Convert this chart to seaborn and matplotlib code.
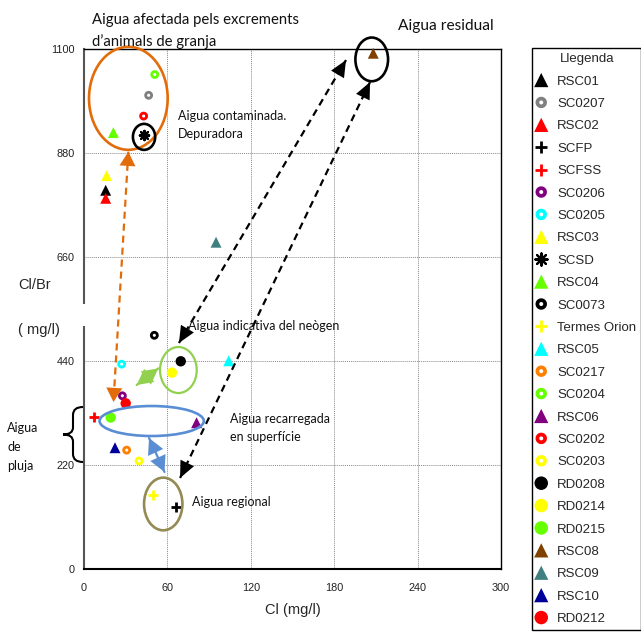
import numpy as np
import seaborn as sns
import matplotlib
matplotlib.use("Agg")
import matplotlib.pyplot as plt
from matplotlib.path import Path
from matplotlib.patches import Ellipse, PathPatch, Rectangle, FancyArrowPatch

# sample data: Cl (mg/l) vs Cl/Br
samples = ["RSC01", "SC0207", "RSC02", "SCFP", "SCFSS", "SC0206", "SC0205", "RSC03",
           "SCSD", "RSC04", "SC0073", "Termes Orion", "RSC05", "SC0217", "SC0204",
           "RSC06", "SC0202", "SC0203", "RD0208", "RD0214", "RD0215", "RSC08",
           "RSC09", "RSC10", "RD0212"]
cl = [15.6, 46.5, 15.6, 66.2, 7.2, 27.6, 27.1, 16.3,
      43.2, 21.1, 50.6, 49.4, 104.1, 30.7, 50.9,
      81.0, 42.9, 39.6, 69.6, 63.3, 19.2, 208.1,
      95.0, 22.3, 30.0]
cl_br = [801, 1002, 784, 131, 322, 366, 433, 832,
         918, 923, 494, 156, 440, 251, 1046,
         309, 958, 228, 439, 415, 320, 1091,
         691, 256, 350]
kinds = ["tri", "ring", "tri", "plus", "plus", "ring", "ring", "tri",
         "star", "tri", "ring", "plus", "tri", "ring", "ring",
         "tri", "ring", "ring", "dot", "dot", "dot", "tri",
         "tri", "tri", "dot"]
colors = ["#000000", "#808080", "#ff0000", "#000000", "#ff0000", "#80007f", "#00ffff", "#ffff00",
          "#000000", "#66ff00", "#000000", "#ffff00", "#00ffff", "#ff8000", "#66ff00",
          "#80007f", "#ff0000", "#ffff00", "#000000", "#ffff00", "#66ff00", "#804000",
          "#408080", "#000099", "#ff0000"]

W, H = 641, 639

sns.set_style("white")
plt.rcParams["font.family"] = ["Liberation Sans", "DejaVu Sans"]

# ring marker (filled disc with a hole in the middle)
t = np.linspace(0, 2 * np.pi, 64)
outer = np.column_stack([np.cos(t), np.sin(t)])
ring = Path(np.concatenate([outer, outer[::-1] * 0.35]),
            ([Path.MOVETO] + [Path.LINETO] * 62 + [Path.CLOSEPOLY]) * 2)

marker_style = {
    "tri": dict(marker="^", s=62, linewidth=0, edgecolor="none"),
    "ring": dict(marker=ring, s=40, linewidth=0, edgecolor="none"),
    "dot": dict(marker="o", s=56, linewidth=0, edgecolor="none"),
    "plus": dict(marker="+", s=45, linewidth=2.0),
    "star": dict(marker=(8, 2, 0), s=45, linewidth=1.6),
}

fig = plt.figure(figsize=(W / 100, H / 100), dpi=100)
ax = fig.add_axes([84 / W, 1 - 568.7 / H, (501 - 84) / W, (568.7 - 49) / H])

for name, x, y, k, c in zip(samples, cl, cl_br, kinds, colors):
    sns.scatterplot(x=[x], y=[y], color=c, label=name, ax=ax, clip_on=False,
                    zorder=3, **marker_style[k])

ax.set_xlim(0, 300)
ax.set_ylim(0, 1100)
ax.set_xticks(range(0, 301, 60))
ax.set_xticks(range(30, 300, 60), minor=True)
ax.set_yticks(range(0, 1101, 220))
ax.set_yticks(range(110, 1100, 220), minor=True)
ax.tick_params(which="major", direction="out", length=5.8, width=0.8,
               labelsize=7.8, colors="#222222")
ax.tick_params(axis="x", which="major", pad=4.5)
ax.tick_params(axis="y", which="major", pad=1.2)
ax.tick_params(which="minor", direction="out", length=3.4, width=0.8, colors="#222222")
ax.grid(True, which="major", color="#8a8a8a", lw=0.7, ls=(0, (1, 1)))
for side in ["top", "right", "bottom"]:
    ax.spines[side].set_color("black")
ax.spines["top"].set_linewidth(1.0)
ax.spines["right"].set_linewidth(1.0)
ax.spines["bottom"].set_linewidth(1.5)
ax.spines["left"].set_color("#555555")
ax.spines["left"].set_linewidth(1.5)

ax.set_xlabel("Cl (mg/l)", fontsize=10.5, labelpad=7)
ax.set_ylabel("")


def fpx(x, y):
    return x / W, 1 - y / H


# break in the y axis behind the label
fig.add_artist(Rectangle(fpx(73, 326), 15 / W, 22 / H, transform=fig.transFigure,
                         facecolor="white", edgecolor="none", zorder=5))
fig.text(*fpx(18, 285), "Cl/Br", fontsize=10.5, va="center", ha="left")
fig.text(*fpx(18, 330), "( mg/l)", fontsize=10.5, va="center", ha="left")

# group outlines
ellipses = [
    ((31.9, 995.6), 56.6, 218, "#e36c0a", 1.9),
    ((43.2, 914), 16, 55, "black", 1.9),
    ((207, 1078), 23.5, 92.5, "black", 1.9),
    ((67.9, 420.5), 26.4, 97.4, "#92d050", 1.6),
    ((48.7, 312.6), 75, 63.5, "#5a8ed4", 1.9),
    ((57, 137), 27.6, 111.5, "#948a54", 1.9),
]
for (cx, cy), w, h, c, lw in ellipses:
    ax.add_patch(Ellipse((cx, cy), w, h, fill=False, edgecolor=c, lw=lw,
                         clip_on=False, zorder=4))

# double-headed arrows: (start tip, end tip, colour, dashed, head size)
arrows = [
    ((68.3, 477.7), (188.5, 1076.6), "black", True, (1.0, 0.45)),
    ((69.1, 192.0), (205.8, 1030.0), "black", True, (1.0, 0.45)),
    ((31.9, 882.5), (21.2, 352.8), "#e36c0a", True, (0.85, 0.48)),
    ((37.9, 388.8), (53.5, 424.0), "#92d050", False, (0.95, 0.5)),
    ((46.8, 276.6), (57.9, 204.7), "#5a8ed4", False, (0.95, 0.5)),
]
for p0, p1, c, dashed, (hl, hw) in arrows:
    if dashed:
        ax.plot([p0[0], p1[0]], [p0[1], p1[1]], color=c, lw=1.6,
                ls=(0, (3.2, 2.2)), clip_on=False, zorder=4)
    else:
        ax.plot([p0[0], p1[0]], [p0[1], p1[1]], color=c, lw=1.6, clip_on=False, zorder=4)
    for tip, other in [(p0, p1), (p1, p0)]:
        back = (tip[0] + (other[0] - tip[0]) * 0.02, tip[1] + (other[1] - tip[1]) * 0.02)
        ax.add_patch(FancyArrowPatch(back, tip,
                                     arrowstyle=f"-|>,head_length={hl},head_width={hw}",
                                     mutation_scale=12, color=c, lw=0,
                                     shrinkA=0, shrinkB=0, clip_on=False, zorder=5))

# text annotations (pixel positions in the figure)
notes = [
    ("Aigua afectada pels excrements", 92, 20, 10.7),
    ("d\u2019animals de granja", 92, 42, 10.7),
    ("Aigua residual", 398, 26, 11.2),
    ("Aigua contaminada.", 178, 116, 9.0),
    ("Depuradora", 178, 134, 9.0),
    ("Aigua indicativa del neògen", 188, 326, 9.0),
    ("Aigua recarregada", 230, 419, 9.0),
    ("en superfície", 230, 437, 9.0),
    ("Aigua regional", 192, 502, 9.0),
    ("Aigua", 7, 428, 9.0),
    ("de", 7, 447, 9.0),
    ("pluja", 7, 466, 9.0),
]
for txt, x, y, fs in notes:
    fig.text(*fpx(x, y), txt, fontsize=fs, family=["Lato", "DejaVu Sans"],
             va="center", ha="left", color="#111111")

# curly brace for rain water
bx, mx, top, bot = 83, 63, 407, 462
mid = (top + bot) / 2
pts = [(bx, top), (73, top), (73, top + 8), (73, mid - 7), (73, mid), (mx, mid),
       (73, mid), (73, mid + 7), (73, bot - 8), (73, bot), (bx, bot)]
codes = [Path.MOVETO, Path.CURVE3, Path.CURVE3, Path.LINETO, Path.CURVE3, Path.CURVE3,
         Path.CURVE3, Path.CURVE3, Path.LINETO, Path.CURVE3, Path.CURVE3]
brace = Path([fpx(*p) for p in pts], codes)
fig.add_artist(PathPatch(brace, transform=fig.transFigure, fill=False,
                         edgecolor="black", lw=1.5))

leg = ax.legend(loc="upper left", bbox_to_anchor=fpx(532, 48),
                bbox_transform=fig.transFigure, borderaxespad=0, frameon=True,
                fancybox=False, edgecolor="black", framealpha=1, title="Llegenda",
                fontsize=9.5, title_fontsize=9.5, markerscale=1.3, handlelength=0.6,
                handletextpad=0.9, labelspacing=0.77, borderpad=0.4,
                scatterpoints=1, scatteryoffsets=[0.5])
leg.get_frame().set_linewidth(1.0)

fig.savefig("out.png", dpi=100)
